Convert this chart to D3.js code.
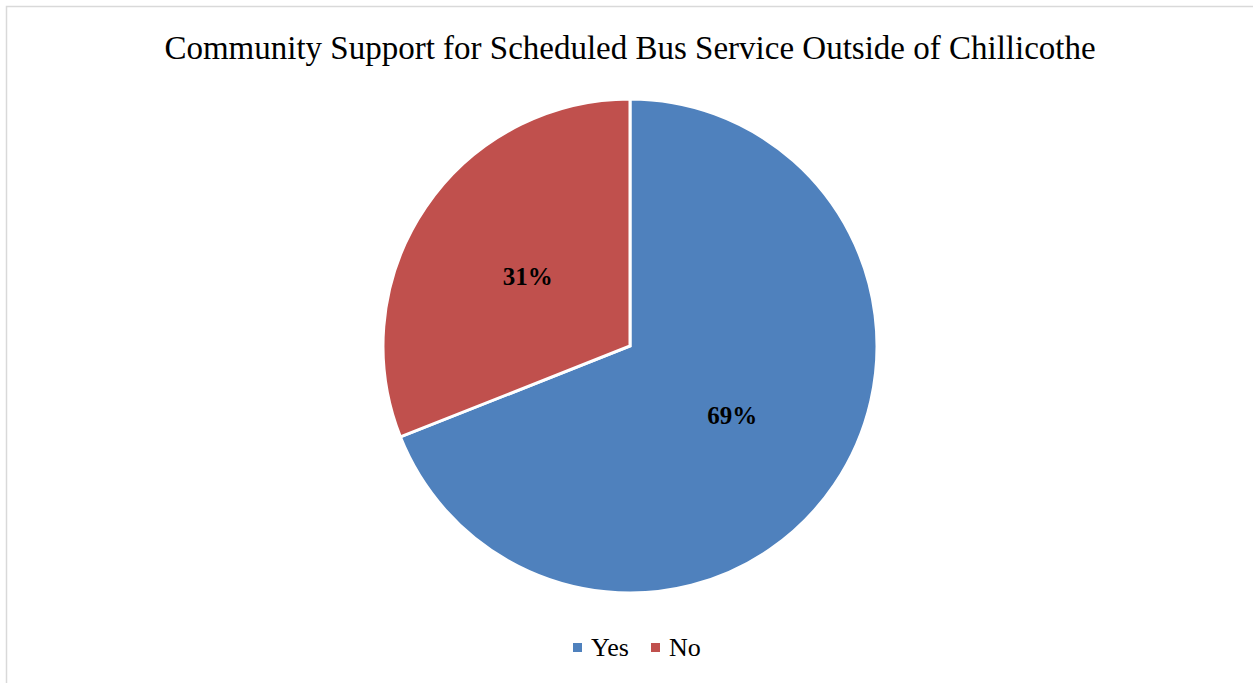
<!DOCTYPE html>
<html>
<head>
<meta charset="utf-8">
<script src="https://cdn.jsdelivr.net/npm/d3@7"></script>
<style>
  body { margin: 0; background: #fff; }
  svg text { font-family: "Liberation Serif", "DejaVu Serif", serif; }
</style>
</head>
<body>
<div id="chart"></div>
<script>
let width = 1253;
let height = 683;

// data
let categories = ["Yes", "No"];
let values = [69, 31];
let colors = ["#4f81bd", "#c0504d"];
let title = "Community Support for Scheduled Bus Service Outside of Chillicothe";

let cx = 630;
let cy = 346;
let radius = 247;

let svg = d3.select("#chart")
  .append("svg")
  .attr("width", width)
  .attr("height", height);

// chart area border
svg.append("rect")
  .attr("x", 6.5)
  .attr("y", 6.5)
  .attr("width", width + 10)
  .attr("height", height + 10)
  .attr("fill", "#fff")
  .attr("stroke", "#d9d9d9")
  .attr("stroke-width", 1.5);

svg.append("text")
  .attr("x", cx)
  .attr("y", 59)
  .attr("text-anchor", "middle")
  .attr("font-size", 33)
  .attr("fill", "#000")
  .text(title);

let data = categories.map(function(c, i) { return {name: c, value: values[i], color: colors[i]}; });

let pie = d3.pie().sort(null).value(function(d) { return d.value; });
let arc = d3.arc().innerRadius(0).outerRadius(radius);
let labelArc = d3.arc().innerRadius(radius * 0.5).outerRadius(radius * 0.5);

let g = svg.append("g").attr("transform", "translate(" + cx + "," + cy + ")");

g.selectAll("path")
  .data(pie(data))
  .enter()
  .append("path")
  .attr("d", arc)
  .attr("fill", function(d) { return d.data.color; })
  .attr("stroke", "#fff")
  .attr("stroke-width", 3)
  .attr("stroke-linejoin", "miter");

g.selectAll("text.lbl")
  .data(pie(data))
  .enter()
  .append("text")
  .attr("class", "lbl")
  .attr("transform", function(d) { return "translate(" + labelArc.centroid(d) + ")"; })
  .attr("text-anchor", "middle")
  .attr("dy", "0.35em")
  .attr("font-size", 25)
  .attr("font-weight", "bold")
  .attr("fill", "#000")
  .text(function(d) { return d.data.value + "%"; });

// legend
let legendX = [573, 651];
let items = svg.append("g").selectAll("g")
  .data(data)
  .enter()
  .append("g")
  .attr("transform", function(d, i) { return "translate(" + legendX[i] + ",0)"; });
items.append("rect")
  .attr("x", 0)
  .attr("y", 643)
  .attr("width", 9)
  .attr("height", 9)
  .attr("fill", function(d) { return d.color; });
items.append("text")
  .attr("x", 18)
  .attr("y", 656)
  .attr("font-size", 26)
  .attr("fill", "#000")
  .text(function(d) { return d.name; });
</script>
</body>
</html>
